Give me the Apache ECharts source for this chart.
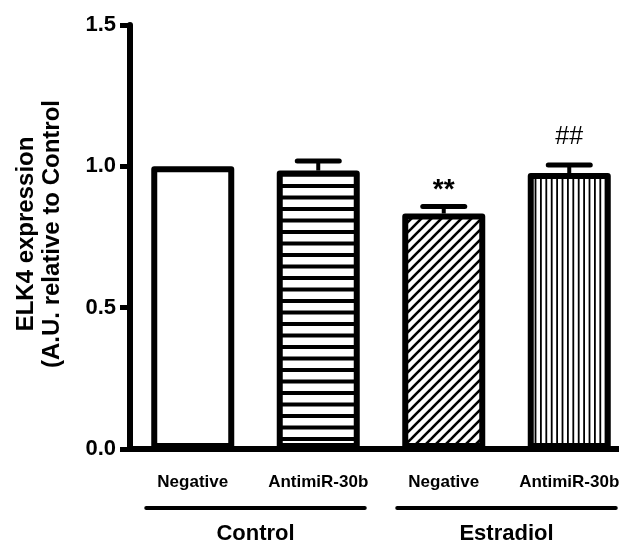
<!DOCTYPE html>
<html>
<head>
<meta charset="utf-8">
<script src="https://cdn.jsdelivr.net/npm/echarts@6/dist/echarts.min.js"></script>
<style>
  html, body { margin: 0; padding: 0; background: #fff; overflow: hidden; }
  /* a little wider than the window: the x axis runs off the right edge in the original */
  #chart { width: 632px; height: 544px; }
</style>
</head>
<body>
<div id="chart"></div>
<script>
// values
const categories = ['Negative', 'AntimiR-30b', 'Negative', 'AntimiR-30b'];
const expression = [1.0, 0.985, 0.833, 0.976];
const errorUp = [0, 0.034, 0.025, 0.029];
const sigLabels = ['', '', '**', '##'];
const sigLevel = [null, null, 0.915, 1.105];
const groupNames = ['Control', 'Estradiol'];
const groupMembers = [[0, 1], [2, 3]];
const yMin = 0, yMax = 1.5, yStep = 0.5;
const yTitle = ['ELK4 expression', '(A.U. relative to Control'];

const FONT = '"Liberation Sans", Arial, sans-serif';
const BAR_W = 83;

function tile(w, h, draw) {
    const c = document.createElement('canvas');
    c.width = w;
    c.height = h;
    const ctx = c.getContext('2d');
    ctx.fillStyle = '#fff';
    ctx.fillRect(0, 0, w, h);
    ctx.fillStyle = '#000';
    ctx.strokeStyle = '#000';
    draw(ctx);
    return { image: c, repeat: 'repeat' };
}

const horizontal = tile(4, 23, ctx => {
    ctx.fillRect(0, 0, 4, 4);
    ctx.fillRect(0, 11.5, 4, 4);
});
const diagonal = tile(10, 10, ctx => {
    ctx.lineWidth = 2.6;
    [[-10, 20, 20, -10], [-15, 15, 15, -15], [-5, 25, 25, -5]].forEach(l => {
        ctx.beginPath();
        ctx.moveTo(l[0] + 5, l[1] - 5);
        ctx.lineTo(l[2] + 5, l[3] - 5);
        ctx.stroke();
    });
});
const vertical = tile(27, 4, ctx => {
    for (let i = 0; i < 5; i++) ctx.fillRect(i * 5.4, 0, 1.8, 4);
});
const fills = ['#fff', horizontal, diagonal, vertical];

const chart = echarts.init(document.getElementById('chart'));

chart.setOption({
    animation: false,
    backgroundColor: '#fff',
    grid: { left: 130, top: 25, right: 0, height: 424 },
    xAxis: {
        type: 'category',
        data: categories,
        axisLine: { lineStyle: { color: '#000', width: 6 } },
        axisTick: { alignWithLabel: true, length: 8, lineStyle: { color: '#000', width: 5 } },
        axisLabel: { interval: 0, color: '#000', fontFamily: FONT, fontWeight: 'bold', fontSize: 17, margin: 25 }
    },
    yAxis: {
        type: 'value',
        min: yMin,
        max: yMax,
        interval: yStep,
        splitLine: { show: false },
        axisLine: { show: true, lineStyle: { color: '#000', width: 6 } },
        axisTick: { show: true, length: 10, lineStyle: { color: '#000', width: 5 } },
        axisLabel: {
            color: '#000', fontFamily: FONT, fontWeight: 'bold', fontSize: 22, margin: 14,
            formatter: v => v.toFixed(1)
        }
    },
    series: [
        {
            type: 'bar',
            barWidth: BAR_W,
            silent: true,
            z: 3,
            data: expression.map((v, i) => ({
                value: v,
                itemStyle: { color: fills[i], borderColor: '#000', borderWidth: 6, borderJoin: 'round' }
            }))
        },
        {
            type: 'custom',
            silent: true,
            z: 4,
            data: expression.map((v, i) => [i, v, errorUp[i], sigLevel[i] == null ? NaN : sigLevel[i]]),
            renderItem: (params, api) => {
                const i = api.value(0);
                const mean = api.value(1);
                const err = api.value(2);
                const children = [];
                if (err > 0) {
                    const base = api.coord([i, mean]);
                    const top = api.coord([i, mean + err]);
                    children.push({
                        type: 'line',
                        shape: { x1: base[0], y1: base[1], x2: top[0], y2: top[1] },
                        style: { stroke: '#000', lineWidth: 4 }
                    });
                    children.push({
                        type: 'line',
                        shape: { x1: top[0] - 21, y1: top[1], x2: top[0] + 21, y2: top[1] },
                        style: { stroke: '#000', lineWidth: 5, lineCap: 'round' }
                    });
                }
                const lab = sigLabels[params.dataIndex];
                if (lab) {
                    const p = api.coord([i, api.value(3)]);
                    children.push({
                        type: 'text',
                        x: p[0], y: p[1],
                        style: {
                            text: lab, fill: '#000',
                            fontFamily: FONT,
                            fontSize: lab === '**' ? 28 : 25,
                            fontWeight: lab === '**' ? 'bold' : 'normal',
                            align: 'center', verticalAlign: 'middle'
                        }
                    });
                }
                return { type: 'group', children: children };
            }
        }
    ]
});

// y axis title and group brackets under the category labels
const plotMid = (chart.convertToPixel({ yAxisIndex: 0 }, yMin) + chart.convertToPixel({ yAxisIndex: 0 }, yMax)) / 2;
const graphics = [{
    type: 'text',
    x: 39, y: plotMid - 3,
    rotation: Math.PI / 2,
    style: {
        text: yTitle.join('\n'), fill: '#000', fontFamily: FONT, fontWeight: 'bold', fontSize: 24,
        lineHeight: 26, align: 'center', verticalAlign: 'middle'
    }
}];
groupMembers.forEach((m, g) => {
    const x1 = chart.convertToPixel({ xAxisIndex: 0 }, m[0]) - BAR_W / 2 - 5;
    const x2 = chart.convertToPixel({ xAxisIndex: 0 }, m[m.length - 1]) + BAR_W / 2 + 5;
    graphics.push({
        type: 'line',
        shape: { x1: x1, y1: 508, x2: x2, y2: 508 },
        style: { stroke: '#000', lineWidth: 4, lineCap: 'round' }
    });
    graphics.push({
        type: 'text',
        x: (x1 + x2) / 2, y: 534,
        style: {
            text: groupNames[g], fill: '#000', fontFamily: FONT, fontWeight: 'bold', fontSize: 22,
            align: 'center', verticalAlign: 'middle'
        }
    });
});
chart.setOption({ graphic: graphics });
</script>
</body>
</html>
